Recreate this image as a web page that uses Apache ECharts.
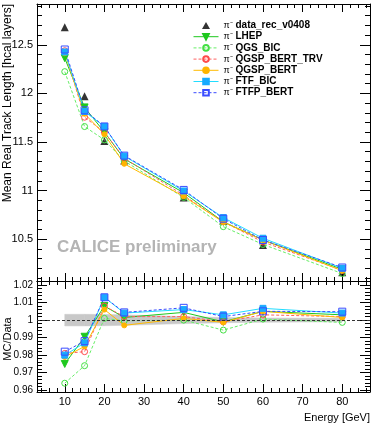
<!DOCTYPE html>
<html>
<head>
<meta charset="utf-8">
<script src="https://cdn.jsdelivr.net/npm/echarts@6/dist/echarts.min.js"></script>
<style>
html, body { margin: 0; padding: 0; background: #fff; }
#container { width: 374px; height: 431px; }
</style>
</head>
<body>
<div id="container"></div>
<script>
// beam energies [GeV]
var energy = [10, 15, 20, 25, 40, 50, 60, 80];

// mean real track length [hcal layers]
var dataRec   = [12.68, 11.97, 11.51, 11.31, 10.93, 10.69, 10.44, 10.16];
var lhep      = [12.363, 11.856, 11.602, 11.327, 10.978, 10.679, 10.492, 10.190];
var qgsBic    = [12.224, 11.659, 11.522, 11.305, 10.930, 10.629, 10.446, 10.147];
var qgspTrv   = [12.439, 11.755, 11.602, 11.333, 10.952, 10.679, 10.471, 10.180];
var qgspBert  = [12.414, 11.790, 11.579, 11.276, 10.941, 10.676, 10.492, 10.175];
var ftfBic    = [12.426, 11.814, 11.660, 11.355, 10.996, 10.722, 10.510, 10.201];
var ftfpBert  = [12.452, 11.826, 11.660, 11.360, 11.007, 10.711, 10.492, 10.209];

// MC / data
var lhepRatio     = [0.975, 0.9905, 1.008, 1.0015, 1.0044, 0.999, 1.005, 1.003];
var qgsBicRatio   = [0.964, 0.974, 1.001, 0.9996, 1.000, 0.9943, 1.0006, 0.9987];
var qgspTrvRatio  = [0.981, 0.982, 1.008, 1.002, 1.002, 0.999, 1.003, 1.002];
var qgspBertRatio = [0.979, 0.985, 1.006, 0.997, 1.001, 0.9987, 1.005, 1.0015];
var ftfBicRatio   = [0.980, 0.987, 1.013, 1.004, 1.006, 1.003, 1.0067, 1.004];
var ftfpBertRatio = [0.982, 0.988, 1.013, 1.0044, 1.007, 1.002, 1.005, 1.0048];

// data uncertainty band around 1
var bandLow  = [0.9967, 0.9967, 0.9968, 0.997, 0.998, 0.9985, 0.9988, 0.999];
var bandHigh = [1.0033, 1.0033, 1.0032, 1.003, 1.002, 1.0015, 1.0012, 1.001];

var names = ['data_rec_v0408', 'LHEP', 'QGS_BIC', 'QGSP_BERT_TRV', 'QGSP_BERT', 'FTF_BIC', 'FTFP_BERT'];

var FONT = 'Liberation Sans';
var downTri = 'path://M0,0 L10,0 L5,9 Z';
var NONE = 'rgba(0,0,0,0)';

function pts(ys) {
    return energy.map(function (e, i) { return [e, ys[i]]; });
}

// model styles: line color, marker fill, marker border, symbol, size, line type
var styles = {
    'LHEP':          { c: '#1ec81e', f: '#1ec81e', b: '#1ec81e', s: downTri,  z: 7, t: 'solid' },
    'QGS_BIC':       { c: '#66ee66', f: NONE,      b: '#44e044', s: 'circle', z: 6, t: [3, 2] },
    'QGSP_BERT_TRV': { c: '#ff6060', f: NONE,      b: '#ff4a4a', s: 'circle', z: 6, t: [3, 2] },
    'QGSP_BERT':     { c: '#ffbb00', f: '#ffb400', b: '#ffb400', s: 'circle', z: 5, t: 'solid' },
    'FTF_BIC':       { c: '#22ddff', f: '#18aaff', b: '#18aaff', s: 'rect',   z: 6, t: 'solid' },
    'FTFP_BERT':     { c: '#3a4cff', f: NONE,      b: '#3a4cff', s: 'rect',   z: 7, t: [3, 2] }
};

function model(name, ys, grid) {
    var st = styles[name];
    return {
        name: grid === 0 ? name : name + ' ratio',
        type: 'line',
        xAxisIndex: grid === 0 ? 0 : 2,
        yAxisIndex: grid === 0 ? 0 : 2,
        data: pts(ys),
        symbol: st.s,
        symbolSize: st.z,
        showAllSymbol: true,
        lineStyle: { color: st.c, width: 1, type: st.t },
        itemStyle: { color: st.f, borderColor: st.b, borderWidth: 1 }
    };
}

function xAx(grid, pos, labels) {
    return {
        type: 'value', gridIndex: grid, position: pos, min: 3, max: 87, splitNumber: 8,
        axisLine: { show: true, lineStyle: { color: '#000', width: 1 } },
        axisTick: { show: true, inside: true, length: 8, lineStyle: { color: '#000' } },
        minorTick: { show: true, splitNumber: 5, length: 4, lineStyle: { color: '#000' } },
        splitLine: { show: false },
        axisLabel: { show: labels, margin: 4, showMinLabel: false, showMaxLabel: false,
                     fontFamily: FONT, fontSize: 11, color: '#000' }
    };
}

function yAx(grid, pos, min, max, split, labels, fs) {
    return {
        type: 'value', gridIndex: grid, position: pos, min: min, max: max, splitNumber: split,
        axisLine: { show: true, lineStyle: { color: '#000', width: 1 } },
        axisTick: { show: true, inside: true, length: 10, lineStyle: { color: '#000' } },
        minorTick: { show: true, splitNumber: 5, length: 5, lineStyle: { color: '#000' } },
        splitLine: { show: false },
        axisLabel: { show: labels, margin: 4, showMinLabel: false, showMaxLabel: false,
                     fontFamily: FONT, fontSize: fs, color: '#000' }
    };
}

var dom = document.getElementById('container');
var myChart = echarts.init(dom);

var lhepR = model('LHEP', lhepRatio, 1);
lhepR.markLine = {
    silent: true, symbol: 'none', label: { show: false },
    lineStyle: { color: '#333', type: [3, 2], width: 1 },
    data: [{ yAxis: 1 }]
};

var series = [
    {
        name: 'data_rec_v0408', type: 'scatter', xAxisIndex: 0, yAxisIndex: 0,
        data: pts(dataRec), symbol: 'triangle', symbolSize: 8,
        itemStyle: { color: '#000' }
    },
    model('LHEP', lhep, 0),
    model('QGS_BIC', qgsBic, 0),
    model('QGSP_BERT_TRV', qgspTrv, 0),
    model('QGSP_BERT', qgspBert, 0),
    model('FTF_BIC', ftfBic, 0),
    model('FTFP_BERT', ftfpBert, 0),
    // data uncertainty band in ratio panel
    {
        name: 'band', type: 'custom', xAxisIndex: 2, yAxisIndex: 2, silent: true,
        data: energy.map(function (e, i) { return [e, bandLow[i], bandHigh[i]]; }),
        encode: { x: 0, y: [1, 2] },
        renderItem: function (params, api) {
            var i = params.dataIndex;
            if (i >= energy.length - 1) return;
            var p = [
                api.coord([energy[i], bandLow[i]]),
                api.coord([energy[i + 1], bandLow[i + 1]]),
                api.coord([energy[i + 1], bandHigh[i + 1]]),
                api.coord([energy[i], bandHigh[i]])
            ];
            return { type: 'polygon', shape: { points: p },
                     style: { fill: '#c8c8c8', stroke: '#c8c8c8', lineWidth: 0.5 } };
        }
    },
    lhepR,
    model('QGS_BIC', qgsBicRatio, 1),
    model('QGSP_BERT_TRV', qgspTrvRatio, 1),
    model('QGSP_BERT', qgspBertRatio, 1),
    model('FTF_BIC', ftfBicRatio, 1),
    model('FTFP_BERT', ftfpBertRatio, 1)
];

var legendData = names.map(function (n) {
    if (n === 'data_rec_v0408') {
        return { name: n, icon: 'path://M0,3.5 L0.001,3.5 M12.5,0 L16.5,7 L8.5,7 Z M25,3.5 L25.001,3.5',
                 itemStyle: { color: '#000', borderWidth: 0 } };
    }
    return { name: n };
});

var option = {
    animation: false,
    backgroundColor: '#fff',
    textStyle: { fontFamily: FONT },
    grid: [
        { left: 37, top: 4, width: 333, height: 277 },
        { left: 37, top: 281, width: 333, height: 111 }
    ],
    xAxis: [
        xAx(0, 'bottom', false),
        xAx(0, 'top', false),
        xAx(1, 'bottom', true),
        xAx(1, 'top', false)
    ],
    yAxis: [
        yAx(0, 'left', 10.07, 12.92, 5, true, 11),
        yAx(0, 'right', 10.07, 12.92, 5, false, 11),
        yAx(1, 'left', 0.959, 1.0223, 6, true, 10),
        yAx(1, 'right', 0.959, 1.0223, 6, false, 10)
    ],
    legend: {
        data: legendData,
        orient: 'vertical',
        left: 188, top: 15, padding: 5,
        itemWidth: 25, itemHeight: 7, itemGap: 0.2,
        selectedMode: false,
        lineStyle: { width: 1 },
        formatter: function (name) { return '{p|π⁻} {b|' + name + '}'; },
        textStyle: {
            fontFamily: FONT, fontSize: 10, color: '#000', lineHeight: 11,
            rich: {
                p: { fontFamily: FONT, fontSize: 9, color: '#000' },
                b: { fontFamily: FONT, fontSize: 10, fontWeight: 'bold', color: '#000' }
            }
        }
    },
    graphic: [
        {
            type: 'text', x: 8, y: 4, rotation: Math.PI / 2,
            style: { text: 'Mean Real Track Length [hcal layers]', fontFamily: FONT, fontSize: 12,
                     fill: '#000', align: 'right', verticalAlign: 'middle' }
        },
        {
            type: 'text', x: 8, y: 339, rotation: Math.PI / 2,
            style: { text: 'MC/Data', fontFamily: FONT, fontSize: 11,
                     fill: '#000', align: 'center', verticalAlign: 'middle' }
        },
        {
            type: 'text', x: 370, y: 418,
            style: { text: 'Energy [GeV]', fontFamily: FONT, fontSize: 11,
                     fill: '#000', align: 'right', verticalAlign: 'middle' }
        },
        {
            type: 'text', x: 57, y: 247,
            style: { text: 'CALICE preliminary', fontFamily: FONT, fontSize: 17, fontWeight: 'bold',
                     fill: '#b4b4b4', align: 'left', verticalAlign: 'middle' }
        }
    ],
    series: series
};

myChart.setOption(option);
</script>
</body>
</html>
